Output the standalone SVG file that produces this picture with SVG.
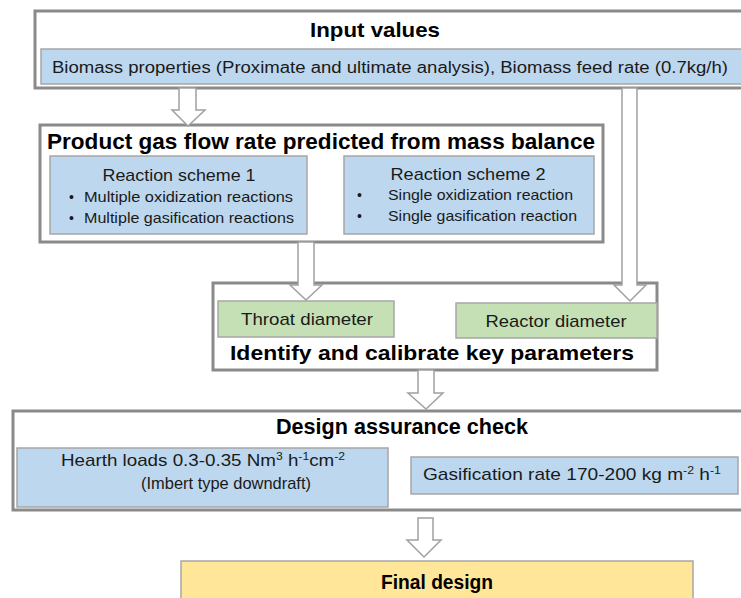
<svg xmlns="http://www.w3.org/2000/svg" width="741" height="598" viewBox="0 0 741 598">
<style>
.frame{fill:#fff;stroke:#8a8a8a;stroke-width:3}
.blue{fill:#bdd7ee;stroke:#a6a6a6;stroke-width:1.5}
.green{fill:#c5e0b4;stroke:#a6a6a6;stroke-width:1.5}
.yellow{fill:#ffe699;stroke:#a6a6a6;stroke-width:1.5}
.arrow{fill:#fff;stroke:#a0a0a0;stroke-width:1.5;stroke-linejoin:miter}
text{font-family:"Liberation Sans",Arial,sans-serif;fill:#1a1a1a}
.title{font-weight:bold;text-anchor:middle;fill:#000}
.mid{text-anchor:middle}
</style>
<rect width="741" height="598" fill="#fff"/>
<g id="input-values">
<rect class="frame" x="35" y="11" width="720" height="77"/>
<text class="title" x="375" y="37" font-size="21" textLength="130" lengthAdjust="spacingAndGlyphs">Input values</text>
<rect class="blue" x="41" y="49" width="712" height="35"/>
<text x="52" y="73" font-size="16" textLength="676" lengthAdjust="spacingAndGlyphs">Biomass properties (Proximate and ultimate analysis), Biomass feed rate (0.7kg/h)</text>
</g>
<g id="product-gas">
<rect class="frame" x="40" y="125" width="563" height="117"/>
<text class="title" x="321" y="149" font-size="22" textLength="548" lengthAdjust="spacingAndGlyphs">Product gas flow rate predicted from mass balance</text>
<rect class="blue" x="50" y="156" width="257" height="78"/>
<text class="mid" x="179" y="181" font-size="17" textLength="153" lengthAdjust="spacingAndGlyphs">Reaction scheme 1</text>
<text x="69" y="202" font-size="14">•</text>
<text x="84" y="202" font-size="15" textLength="209" lengthAdjust="spacingAndGlyphs">Multiple oxidization reactions</text>
<text x="69" y="223" font-size="14">•</text>
<text x="84" y="223" font-size="15" textLength="210" lengthAdjust="spacingAndGlyphs">Multiple gasification reactions</text>
<rect class="blue" x="344" y="156" width="250" height="78"/>
<text class="mid" x="468" y="180" font-size="17" textLength="155" lengthAdjust="spacingAndGlyphs">Reaction scheme 2</text>
<text x="357" y="200" font-size="14">•</text>
<text x="388" y="200" font-size="15" textLength="185" lengthAdjust="spacingAndGlyphs">Single oxidization reaction</text>
<text x="357" y="221" font-size="14">•</text>
<text x="388" y="221" font-size="15" textLength="189" lengthAdjust="spacingAndGlyphs">Single gasification reaction</text>
</g>
<g id="key-parameters">
<rect class="frame" x="213" y="283" width="444" height="87"/>
<rect class="green" x="218" y="301" width="176" height="36"/>
<text class="mid" x="307" y="325" font-size="17" textLength="132" lengthAdjust="spacingAndGlyphs">Throat diameter</text>
<rect class="green" x="456" y="303" width="201" height="35"/>
<text class="mid" x="556" y="327" font-size="17" textLength="141" lengthAdjust="spacingAndGlyphs">Reactor diameter</text>
<text class="title" x="432" y="360" font-size="21" textLength="404" lengthAdjust="spacingAndGlyphs">Identify and calibrate key parameters</text>
</g>
<g id="design-assurance">
<rect class="frame" x="13" y="411" width="745" height="99"/>
<text class="title" x="402" y="434" font-size="22" textLength="252" lengthAdjust="spacingAndGlyphs">Design assurance check</text>
<rect class="blue" x="17" y="448" width="371" height="59"/>
<text x="61" y="466" font-size="17" textLength="284" lengthAdjust="spacingAndGlyphs">Hearth loads 0.3-0.35 Nm<tspan font-size="11" dy="-6">3</tspan><tspan dy="6"> h</tspan><tspan font-size="11" dy="-6">-1</tspan><tspan dy="6">cm</tspan><tspan font-size="11" dy="-6">-2</tspan></text>
<text x="141" y="489" font-size="17" textLength="170" lengthAdjust="spacingAndGlyphs">(Imbert type downdraft)</text>
<rect class="blue" x="411" y="457" width="327" height="37"/>
<text x="423" y="480" font-size="17" textLength="298" lengthAdjust="spacingAndGlyphs">Gasification rate 170-200 kg m<tspan font-size="11" dy="-6">-2</tspan><tspan dy="6"> h</tspan><tspan font-size="11" dy="-6">-1</tspan></text>
</g>
<g id="final-design">
<rect class="yellow" x="181" y="561" width="512" height="45"/>
<text class="title" x="437" y="589" font-size="20" textLength="112" lengthAdjust="spacingAndGlyphs">Final design</text>
</g>
<g id="connectors">
<polygon class="arrow" points="179,88 196,88 196,110 205,110 188,126 172,110 179,110"/>
<polygon class="arrow" points="298,242 314,242 314,285 322,285 306,300 290,285 298,285"/>
<polygon class="arrow" points="622,88 637,88 637,285 646,285 630,301 614,285 622,285"/>
<polygon class="arrow" points="418,370 434,370 434,393 443,393 426,409 408,393 418,393"/>
<polygon class="arrow" points="418,518 433,518 433,540 441,540 424,557 407,540 418,540"/>
</g>
</svg>
